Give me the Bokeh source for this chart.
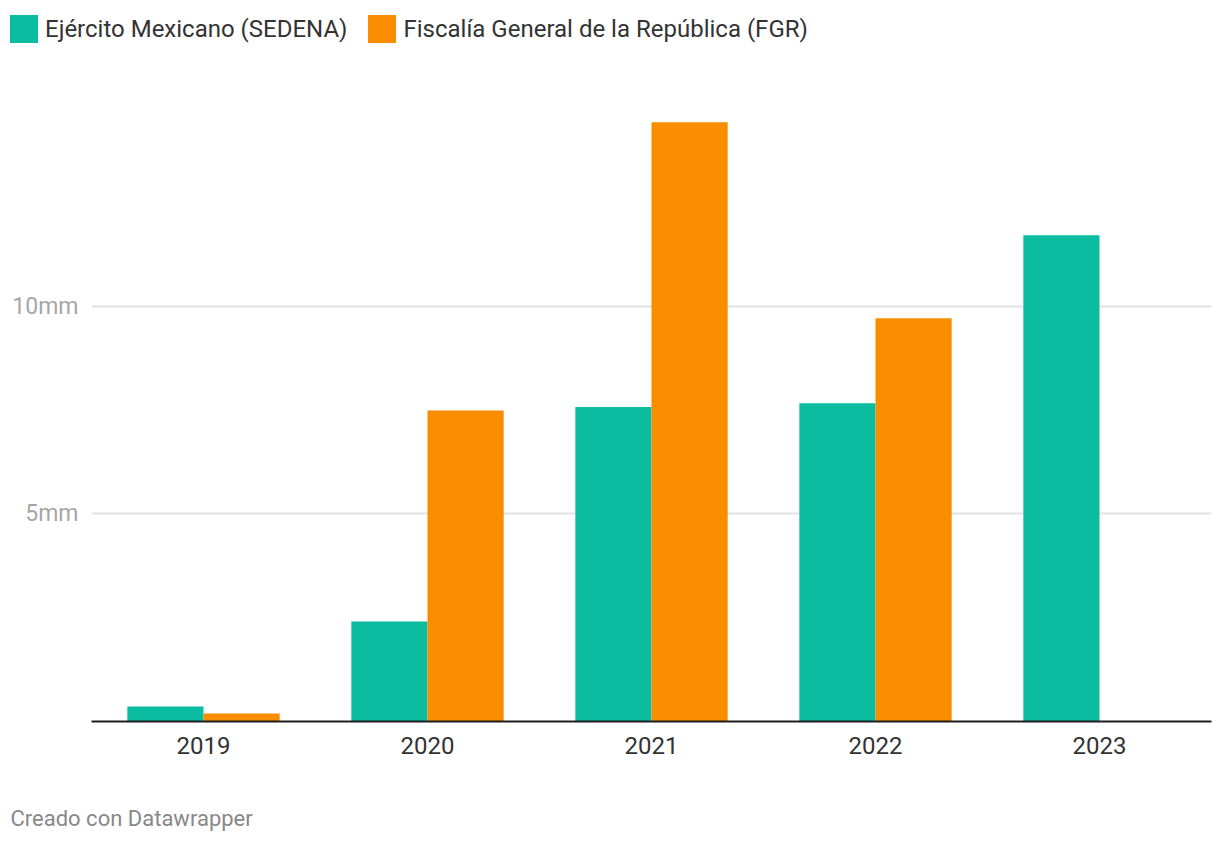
from bokeh.plotting import figure
from bokeh.layouts import column
from bokeh.models import (ColumnDataSource, FactorRange, Range1d, FixedTicker,
                          Legend, LegendItem, Label)
from bokeh.transform import dodge
from bokeh.embed import file_html
from bokeh.resources import INLINE

years = ["2019", "2020", "2021", "2022", "2023"]
sedena = [0.36, 2.41, 7.57, 7.66, 11.71]
fgr = [0.19, 7.49, 14.43, 9.71, None]
series_names = ["Ejército Mexicano (SEDENA)", "Fiscalía General de la República (FGR)"]
y_ticks = [5, 10]
y_tick_labels = {5: "5mm", 10: "10mm"}
footer_text = "Creado con Datawrapper"

TEAL = "#0bbda0"
ORANGE = "#fa8c00"
FONT = "Roboto"
W = 1220

src = ColumnDataSource(dict(
    years=years,
    sedena=sedena,
    fgr=[float("nan") if v is None else v for v in fgr],
))


def strip(height):
    f = figure(width=W, height=height, x_range=Range1d(0, W), y_range=Range1d(0, height),
               output_backend="svg", toolbar_location=None,
               x_axis_type=None, y_axis_type=None,
               min_border=0, min_border_left=0, min_border_right=0,
               min_border_top=0, min_border_bottom=0)
    f.frame_align = False
    f.outline_line_color = None
    f.xgrid.visible = False
    f.ygrid.visible = False
    return f


# ---------- legend strip ----------
leg = strip(56)
dummy = ColumnDataSource(dict(x=[-100.0], top=[float("nan")]))
lr1 = leg.vbar(x="x", top="top", width=1, source=dummy, fill_color=TEAL, line_color=None)
lr2 = leg.vbar(x="x", top="top", width=1, source=dummy, fill_color=ORANGE, line_color=None)
legend = Legend(items=[LegendItem(label=series_names[0], renderers=[lr1]),
                       LegendItem(label=series_names[1], renderers=[lr2])],
                orientation="horizontal", location=(6, 10),
                glyph_width=35, glyph_height=35, label_standoff=4, spacing=17,
                padding=0, margin=0, border_line_color=None, background_fill_alpha=0,
                label_text_font=FONT, label_text_font_size="24px",
                label_text_color="#333333", label_height=35)
leg.add_layout(legend, "center")

# ---------- main chart ----------
p = figure(width=W, height=734, x_range=FactorRange(*years), y_range=Range1d(0, 15),
           output_backend="svg", toolbar_location=None,
           min_border_left=91, min_border_right=9, min_border_top=42, min_border_bottom=69)
p.frame_align = False
p.x_range.range_padding = 0
p.outline_line_color = None

p.vbar(x=dodge("years", -0.17, range=p.x_range), top="sedena", width=0.34,
       source=src, fill_color=TEAL, line_color=None)
p.vbar(x=dodge("years", 0.17, range=p.x_range), top="fgr", width=0.34,
       source=src, fill_color=ORANGE, line_color=None)

p.xaxis.axis_line_color = "#1d1d1d"
p.xaxis.axis_line_width = 2
p.xaxis.major_tick_line_color = None
p.xaxis.minor_tick_line_color = None
p.xaxis.major_label_text_font = FONT
p.xaxis.major_label_text_font_size = "24px"
p.xaxis.major_label_text_color = "#333333"
p.xaxis.major_label_standoff = 9
p.xgrid.grid_line_color = None

p.yaxis.ticker = FixedTicker(ticks=y_ticks)
p.yaxis.major_label_overrides = y_tick_labels
p.yaxis.axis_line_color = None
p.yaxis.major_tick_line_color = None
p.yaxis.minor_tick_line_color = None
p.yaxis.major_label_text_font = FONT
p.yaxis.major_label_text_font_size = "23px"
p.yaxis.major_label_text_color = "#a6a6a6"
p.yaxis.major_label_standoff = 7
p.ygrid.ticker = FixedTicker(ticks=y_ticks)
p.ygrid.grid_line_color = "#e2e2e2"
p.ygrid.grid_line_width = 2

# ---------- footer strip ----------
ft = strip(54)
ft.add_layout(Label(x=10, y=26, text=footer_text, text_font=FONT, text_font_size="22px",
                    text_color="#888888", text_baseline="middle", text_align="left"))

layout = column(leg, p, ft, spacing=0)
open("out.html", "w").write(file_html(layout, INLINE))
